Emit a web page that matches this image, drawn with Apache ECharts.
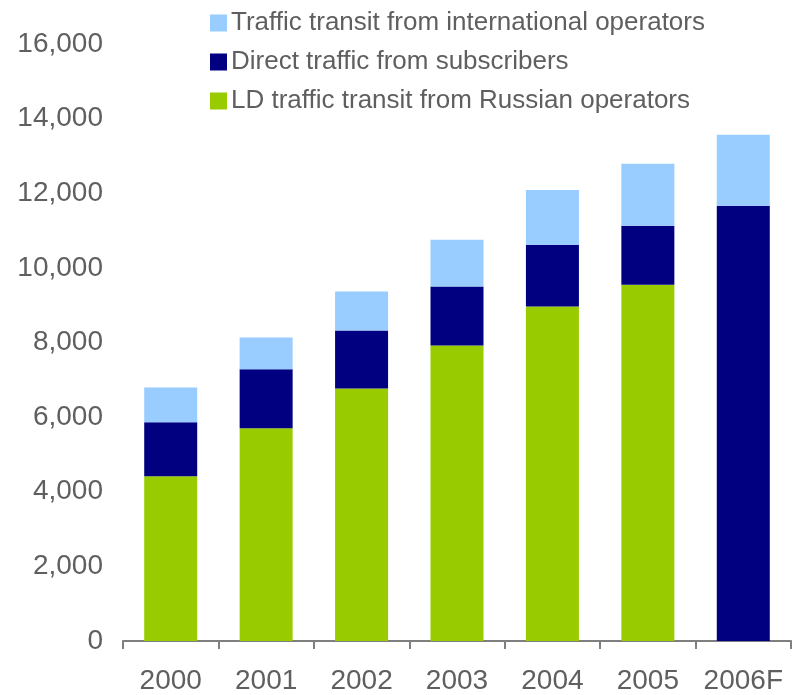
<!DOCTYPE html>
<html>
<head>
<meta charset="utf-8">
<script src="https://cdn.jsdelivr.net/npm/echarts@6/dist/echarts.min.js"></script>
<style>
  html, body { margin: 0; padding: 0; background: #fff; }
  #chart { width: 799px; height: 695px; }
</style>
</head>
<body>
<div id="chart"></div>
<script>
const years = ['2000', '2001', '2002', '2003', '2004', '2005', '2006F']
const russianTransit = [4415, 5700, 6770, 7920, 8965, 9550, 0]
const directSubscribers = [1445, 1580, 1550, 1580, 1655, 1580, 11665]
const internationalTransit = [936, 855, 1045, 1255, 1470, 1660, 1900]
const yTicks = [0, 2000, 4000, 6000, 8000, 10000, 12000, 14000, 16000]

const textColor = '#5f5f5f'
const font = 'Liberation Sans, Arial, sans-serif'

const chart = echarts.init(document.getElementById('chart'))

chart.setOption({
  backgroundColor: '#fff',
  animation: false,
  textStyle: { fontFamily: font },
  legend: {
    orient: 'vertical',
    left: 205,
    top: 3,
    itemWidth: 17,
    itemHeight: 17,
    itemGap: 9,
    icon: 'rect',
    data: ['Traffic transit from international operators', 'Direct traffic from subscribers', 'LD traffic transit from Russian operators'],
    textStyle: { color: textColor, fontSize: 26, fontFamily: font, lineHeight: 30, padding: [0, 0, 0, -1] }
  },
  grid: { left: 123, right: 8, top: 44, bottom: 53 },
  xAxis: {
    type: 'category',
    data: years,
    axisLine: { lineStyle: { color: '#7f7f7f', width: 2 } },
    axisTick: { show: true, length: 8, lineStyle: { color: '#7f7f7f', width: 2 } },
    axisLabel: { color: textColor, fontSize: 28, margin: 26, fontFamily: font, interval: 0, hideOverlap: false }
  },
  yAxis: {
    type: 'value',
    min: yTicks[0],
    max: yTicks[yTicks.length - 1],
    interval: 2000,
    axisLine: { show: false },
    axisTick: { show: false },
    splitLine: { show: false },
    axisLabel: {
      color: textColor,
      fontSize: 28,
      margin: 20,
      fontFamily: font,
      formatter: (v) => v.toLocaleString('en-US')
    }
  },
  series: [
    {
      name: 'LD traffic transit from Russian operators',
      type: 'bar',
      stack: 'total',
      barWidth: 53,
      data: russianTransit,
      itemStyle: { color: '#99cc00' }
    },
    {
      name: 'Direct traffic from subscribers',
      type: 'bar',
      stack: 'total',
      barWidth: 53,
      data: directSubscribers,
      itemStyle: { color: '#000080' }
    },
    {
      name: 'Traffic transit from international operators',
      type: 'bar',
      stack: 'total',
      barWidth: 53,
      data: internationalTransit,
      itemStyle: { color: '#99ccff' }
    }
  ]
})
</script>
</body>
</html>
